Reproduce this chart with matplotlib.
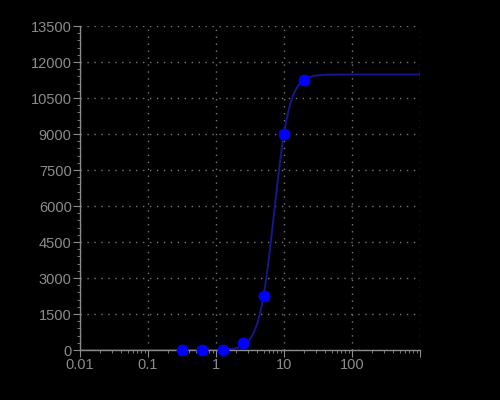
import numpy as np
import matplotlib
matplotlib.use("Agg")
import matplotlib.pyplot as plt
from matplotlib.ticker import FixedLocator, NullFormatter

# 数据点（浓度, 响应）
conc = [0.3125, 0.625, 1.25, 2.5, 5, 10, 20]
resp = [0, 0, 20, 300, 2260, 9000, 11260]

# 4PL 拟合参数（从图上估计）
bottom, top, ec50, hill = 0, 11480, 7.17, 3.89

y_ticks = [0, 1500, 3000, 4500, 6000, 7500, 9000, 10500, 12000, 13500]
x_ticks = [0.01, 0.1, 1, 10, 100, 1000]
x_labels = ["0.01", "0.1", "1", "10", "100", ""]

fg = "#8c8c8c"
fig = plt.figure(figsize=(5, 4), dpi=100, facecolor="black")
ax = fig.add_axes([0.16, 0.125, 0.68, 0.81], facecolor="black")

xs = np.logspace(-2, 3, 400)
ys = bottom + (top - bottom) / (1 + (ec50 / xs) ** hill)
ax.plot(xs, ys, color="#16168e", lw=1.4, zorder=2)
ax.plot(conc, resp, "o", color="#0000ff", ms=7.5, zorder=3, clip_on=False)

ax.set_xscale("log")
ax.set_xlim(0.01, 1000)
ax.set_ylim(0, 13500)
ax.xaxis.set_major_locator(FixedLocator(x_ticks))
ax.set_xticklabels(x_labels)
ax.xaxis.set_minor_locator(FixedLocator(
    [m * 10.0 ** e for e in range(-2, 3) for m in range(2, 10)]))
ax.xaxis.set_minor_formatter(NullFormatter())
ax.set_yticks(y_ticks)
ax.set_yticks(np.arange(0, 13501, 300), minor=True)

for s in ["top", "right"]:
    ax.spines[s].set_visible(False)
for s in ["left", "bottom"]:
    ax.spines[s].set_color(fg)
    ax.spines[s].set_linewidth(1)

ax.grid(True, which="major", color="#777777", linestyle=(0, (1, 4)), lw=1)
ax.tick_params(which="major", colors=fg, length=5, labelcolor=fg, pad=1)
ax.tick_params(which="minor", colors=fg, length=2)
for lab in ax.get_xticklabels() + ax.get_yticklabels():
    lab.set_fontfamily("Liberation Sans")
    lab.set_fontsize(10.5)

fig.savefig("out.png", facecolor="black")
